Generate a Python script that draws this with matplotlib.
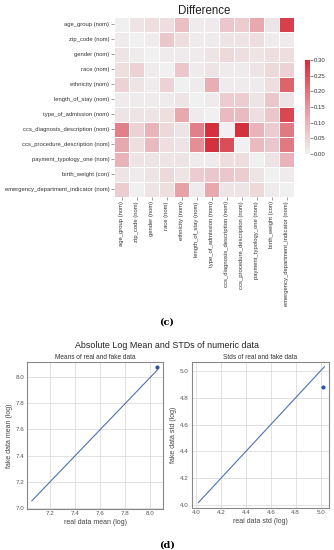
import numpy as np
import matplotlib
matplotlib.use("Agg")
import matplotlib.pyplot as plt
from matplotlib.colors import LinearSegmentedColormap

plt.rcParams["font.family"] = ["Liberation Sans", "DejaVu Sans"]

# ---------- data ----------
columns = ["age_group (nom)", "zip_code (nom)", "gender (nom)", "race (nom)",
           "ethnicity (nom)", "length_of_stay (nom)", "type_of_admission (nom)",
           "ccs_diagnosis_description (nom)", "ccs_procedure_description (nom)",
           "payment_typology_one (nom)", "birth_weight (con)",
           "emergency_department_indicator (nom)"]

diff = np.array([
    [0.00, 0.02, 0.03, 0.03, 0.08, 0.01, 0.01, 0.07, 0.06, 0.12, 0.02, 0.27],
    [0.01, 0.00, 0.01, 0.07, 0.03, 0.01, 0.01, 0.02, 0.02, 0.03, 0.01, 0.01],
    [0.02, 0.01, 0.00, 0.01, 0.01, 0.01, 0.02, 0.04, 0.03, 0.02, 0.03, 0.03],
    [0.03, 0.05, 0.01, 0.00, 0.07, 0.01, 0.02, 0.01, 0.01, 0.02, 0.04, 0.05],
    [0.05, 0.02, 0.01, 0.05, 0.00, 0.01, 0.11, 0.01, 0.01, 0.01, 0.03, 0.22],
    [0.01, 0.01, 0.01, 0.01, 0.02, 0.00, 0.01, 0.06, 0.06, 0.02, 0.07, 0.02],
    [0.02, 0.02, 0.02, 0.03, 0.12, 0.01, 0.00, 0.09, 0.09, 0.03, 0.07, 0.26],
    [0.18, 0.05, 0.10, 0.04, 0.02, 0.18, 0.29, 0.00, 0.29, 0.10, 0.06, 0.19],
    [0.12, 0.03, 0.09, 0.03, 0.02, 0.16, 0.29, 0.25, 0.00, 0.09, 0.07, 0.19],
    [0.10, 0.02, 0.02, 0.02, 0.02, 0.01, 0.01, 0.03, 0.03, 0.00, 0.02, 0.10],
    [0.02, 0.01, 0.02, 0.04, 0.02, 0.06, 0.07, 0.07, 0.06, 0.02, 0.00, 0.01],
    [0.06, 0.00, 0.02, 0.03, 0.13, 0.01, 0.12, 0.02, 0.02, 0.04, 0.01, 0.00],
])

real_mean = [8.056]
fake_mean = [8.076]
mean_line = [7.055, 8.055]

real_std = [5.018]
fake_std = [4.876]
std_line = [4.02, 5.03]

W, H = 334, 550
fig = plt.figure(figsize=(W / 100, H / 100), dpi=100)


def box(x0, y0, x1, y1):
    return [x0 / W, 1 - y1 / H, (x1 - x0) / W, (y1 - y0) / H]


# ---------- heatmap ----------
cmap = LinearSegmentedColormap.from_list("diff", ["#f0f0f0", "#e5969d", "#d42a37"])
ax = fig.add_axes(box(114, 16.6, 294, 196.5))
cax = fig.add_axes(box(305, 60, 310, 154))
n = len(columns)
mesh = ax.pcolormesh(np.arange(n + 1), np.arange(n + 1), diff, cmap=cmap,
                     vmin=0, vmax=0.3, edgecolors="white", linewidth=0.6)
ax.set_xlim(0, n)
ax.set_ylim(n, 0)
for s in ax.spines.values():
    s.set_visible(False)
ax.set_xticks(np.arange(n) + 0.5)
ax.set_yticks(np.arange(n) + 0.5)
ax.set_xticklabels(columns, rotation=90, fontsize=4.2, color="#333333")
ax.set_yticklabels(columns, fontsize=4.2, color="#333333")
ax.tick_params(length=2, width=0.4, color="#555555", pad=1.5)
ax.set_title("Difference", fontsize=8.3, pad=2, color="#222222")

cb = fig.colorbar(mesh, cax=cax)
cb.set_ticks([0, 0.05, 0.1, 0.15, 0.2, 0.25, 0.3])
cb.ax.tick_params(labelsize=4.3, length=2, width=0.4, pad=1, colors="#333333")
cb.outline.set_visible(False)

fig.text(167 / W, 1 - 322 / H, "(c)", ha="center", va="center",
         fontsize=7, fontweight="bold", family="DejaVu Serif")

# ---------- mean / std plots ----------
fig.text(167 / W, 1 - 345 / H, "Absolute Log Mean and STDs of numeric data",
         ha="center", va="center", fontsize=6.4, color="#222222")

blue = "#4c72b0"


def style(a):
    a.grid(True, color="#dddddd", linewidth=0.6)
    a.set_axisbelow(True)
    for s in a.spines.values():
        s.set_color("#888888")
        s.set_linewidth(0.8)
    a.tick_params(labelsize=4.5, length=0, pad=2, colors="#555555")


ax1 = fig.add_axes(box(27, 362, 163, 508.5))
ax1.plot(mean_line, mean_line, color=blue, linewidth=0.8)
ax1.scatter(real_mean, fake_mean, s=4, color="#2f55a4", zorder=3)
ax1.set_xlim(7.016, 8.10)
ax1.set_ylim(6.996, 8.116)
ax1.set_xticks([7.2, 7.4, 7.6, 7.8, 8.0])
ax1.set_yticks([7.0, 7.2, 7.4, 7.6, 7.8, 8.0])
ax1.set_title("Means of real and fake data", fontsize=4.7, pad=2, color="#333333")
ax1.set_xlabel("real data mean (log)", fontsize=5, labelpad=2, color="#444444")
ax1.set_ylabel("fake data mean (log)", fontsize=5, labelpad=2, color="#444444")
style(ax1)

ax2 = fig.add_axes(box(191.7, 362, 329.3, 507.5))
ax2.plot(std_line, std_line, color=blue, linewidth=0.8)
ax2.scatter(real_std, fake_std, s=4, color="#2f55a4", zorder=3)
ax2.set_xlim(3.966, 5.069)
ax2.set_ylim(3.983, 5.065)
ax2.set_xticks([4.0, 4.2, 4.4, 4.6, 4.8, 5.0])
ax2.set_yticks([4.0, 4.2, 4.4, 4.6, 4.8, 5.0])
ax2.set_title("Stds of real and fake data", fontsize=4.7, pad=2, color="#333333")
ax2.set_xlabel("real data std (log)", fontsize=5, labelpad=2, color="#444444")
ax2.set_ylabel("fake data std (log)", fontsize=5, labelpad=2, color="#444444")
style(ax2)

fig.text(167 / W, 1 - 545 / H, "(d)", ha="center", va="center",
         fontsize=7, fontweight="bold", family="DejaVu Serif")

fig.savefig("out.png", dpi=100)
